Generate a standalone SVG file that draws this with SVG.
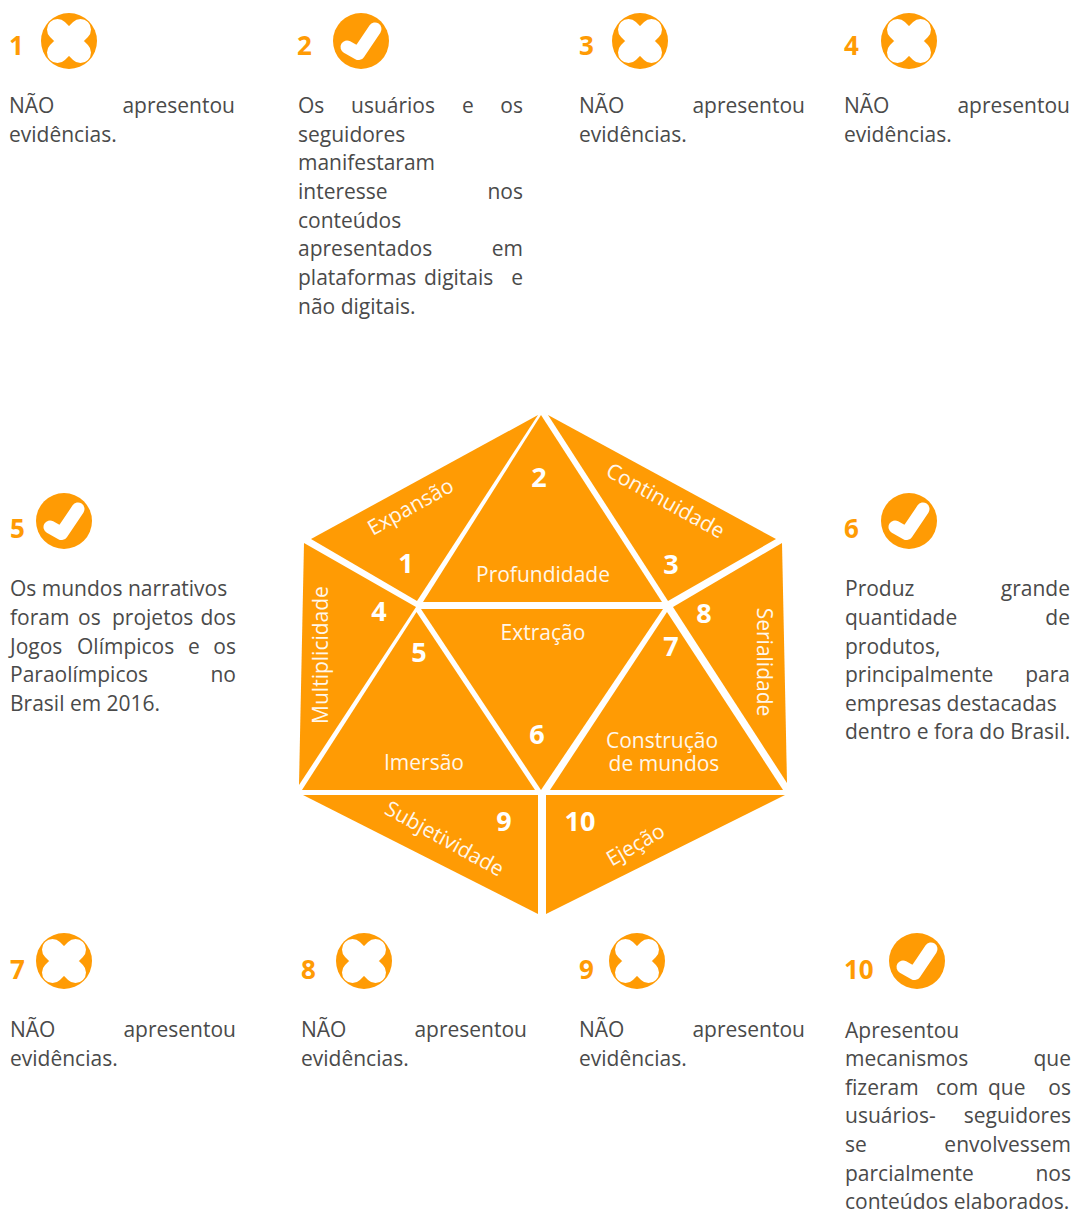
<svg xmlns="http://www.w3.org/2000/svg" width="1073" height="1213" viewBox="0 0 1073 1213">
<style>
text{font-family:"Open Sans","Noto Sans",sans-serif}
.t{font-size:21px;fill:#4a4a4a}
.e{font-size:21px;fill:#4a4a4a;text-anchor:end}
.n{font-size:26px;font-weight:700;fill:#ff9b04}
.w{font-size:27px;font-weight:700;fill:#fff;text-anchor:middle}
.l{font-size:21px;fill:#fff;text-anchor:middle;opacity:.92}
.f{fill:#ff9b04}
</style>
<defs>
<g id="x"><circle r="28" class="f"/><path d="M-11.500-11.500L11.500 11.500M11.500-11.500L-11.500 11.500" stroke="#fff" stroke-width="21" stroke-linecap="round"/></g>
<g id="c"><circle r="28" class="f"/><path d="M-14 6L-2.500 12.500L14-12" fill="none" stroke="#fff" stroke-width="13" stroke-linecap="round" stroke-linejoin="round"/></g>
</defs>
<g id="hexagon">
<polygon class="f" points="538,415 311,539 417,601"/>
<polygon class="f" points="541,415 423,602 662,602"/>
<polygon class="f" points="548,415 776,539 668,601"/>
<polygon class="f" points="304,543 416,607 299,785"/>
<polygon class="f" points="416.500,612 302,790 535,790"/>
<polygon class="f" points="421,609 663,609 541,790"/>
<polygon class="f" points="667,612 550,790 783,790"/>
<polygon class="f" points="782,543 673,607 787,783"/>
<polygon class="f" points="303,795 538,795 538,914"/>
<polygon class="f" points="546,795 785,795 546,914"/>
<text class="w" x="539" y="487">2</text>
<text class="w" x="406" y="573">1</text>
<text class="w" x="671" y="574">3</text>
<text class="w" x="379" y="621">4</text>
<text class="w" x="419" y="662">5</text>
<text class="w" x="537" y="744">6</text>
<text class="w" x="671" y="656">7</text>
<text class="w" x="704" y="623">8</text>
<text class="w" x="504" y="831">9</text>
<text class="w" x="580" y="831">10</text>
<text class="l" x="543" y="582">Profundidade</text>
<text class="l" x="543" y="640">Extração</text>
<text class="l" x="424" y="770">Imersão</text>
<text class="l" x="662" y="748">Construção</text>
<text class="l" x="664" y="771">de mundos</text>
<text class="l" transform="translate(414 513) rotate(-29)">Expansão</text>
<text class="l" transform="translate(662 507) rotate(29)">Continuidade</text>
<text class="l" transform="translate(328 655) rotate(-90)">Multiplicidade</text>
<text class="l" transform="translate(757 662) rotate(90)">Serialidade</text>
<text class="l" transform="translate(441 845) rotate(29)">Subjetividade</text>
<text class="l" transform="translate(639 851) rotate(-30)">Ejeção</text>
</g>
<g id="item1"><text class="n" x="9" y="55">1</text><use href="#x" x="69" y="41"/>
<text class="t" x="9" y="113">NÃO</text><text class="e" x="235" y="113">apresentou</text><text class="t" x="9" y="142">evidências.</text></g>
<g id="item2"><text class="n" x="297" y="55">2</text><use href="#c" x="361" y="41"/>
<text class="t" x="298" y="113">Os</text><text class="t" x="351" y="113">usuários</text><text class="t" x="462" y="113">e</text><text class="e" x="523" y="113">os</text>
<text class="t" x="298" y="142">seguidores</text><text class="t" x="298" y="170">manifestaram</text>
<text class="t" x="298" y="199">interesse</text><text class="e" x="523" y="199">nos</text>
<text class="t" x="298" y="228">conteúdos</text>
<text class="t" x="298" y="256">apresentados</text><text class="e" x="523" y="256">em</text>
<text class="t" x="298" y="285">plataformas</text><text class="t" x="424" y="285">digitais</text><text class="e" x="523" y="285">e</text>
<text class="t" x="298" y="314">não digitais.</text></g>
<g id="item3"><text class="n" x="579" y="55">3</text><use href="#x" x="640" y="41"/>
<text class="t" x="579" y="113">NÃO</text><text class="e" x="805" y="113">apresentou</text><text class="t" x="579" y="142">evidências.</text></g>
<g id="item4"><text class="n" x="844" y="55">4</text><use href="#x" x="909" y="41"/>
<text class="t" x="844" y="113">NÃO</text><text class="e" x="1070" y="113">apresentou</text><text class="t" x="844" y="142">evidências.</text></g>
<g id="item5"><text class="n" x="10" y="538">5</text><use href="#c" x="64" y="521"/>
<text class="t" x="10" y="596">Os mundos narrativos</text>
<text class="t" x="10" y="625">foram</text><text class="t" x="78" y="625">os</text><text class="t" x="112" y="625">projetos</text><text class="e" x="236" y="625">dos</text>
<text class="t" x="10" y="654">Jogos</text><text class="t" x="77" y="654">Olímpicos</text><text class="t" x="188" y="654">e</text><text class="e" x="236" y="654">os</text>
<text class="t" x="10" y="682">Paraolímpicos</text><text class="e" x="236" y="682">no</text>
<text class="t" x="10" y="711">Brasil em 2016.</text></g>
<g id="item6"><text class="n" x="844" y="538">6</text><use href="#c" x="909" y="521"/>
<text class="t" x="845" y="596">Produz</text><text class="e" x="1070" y="596">grande</text>
<text class="t" x="845" y="625">quantidade</text><text class="e" x="1070" y="625">de</text>
<text class="t" x="845" y="654">produtos,</text>
<text class="t" x="845" y="682">principalmente</text><text class="e" x="1070" y="682">para</text>
<text class="t" x="845" y="711">empresas destacadas</text>
<text class="t" x="845" y="739">dentro e fora do Brasil.</text></g>
<g id="item7"><text class="n" x="10" y="979">7</text><use href="#x" x="64" y="961"/>
<text class="t" x="10" y="1037">NÃO</text><text class="e" x="236" y="1037">apresentou</text><text class="t" x="10" y="1066">evidências.</text></g>
<g id="item8"><text class="n" x="301" y="979">8</text><use href="#x" x="364" y="961"/>
<text class="t" x="301" y="1037">NÃO</text><text class="e" x="527" y="1037">apresentou</text><text class="t" x="301" y="1066">evidências.</text></g>
<g id="item9"><text class="n" x="579" y="979">9</text><use href="#x" x="637" y="961"/>
<text class="t" x="579" y="1037">NÃO</text><text class="e" x="805" y="1037">apresentou</text><text class="t" x="579" y="1066">evidências.</text></g>
<g id="item10"><text class="n" x="844" y="979">10</text><use href="#c" x="917" y="961"/>
<text class="t" x="845" y="1038">Apresentou</text>
<text class="t" x="845" y="1066">mecanismos</text><text class="e" x="1071" y="1066">que</text>
<text class="t" x="845" y="1095">fizeram</text><text class="t" x="936" y="1095">com</text><text class="t" x="988" y="1095">que</text><text class="e" x="1071" y="1095">os</text>
<text class="t" x="845" y="1123">usuários-</text><text class="e" x="1071" y="1123">seguidores</text>
<text class="t" x="845" y="1152">se</text><text class="e" x="1071" y="1152">envolvessem</text>
<text class="t" x="845" y="1181">parcialmente</text><text class="e" x="1071" y="1181">nos</text>
<text class="t" x="845" y="1209">conteúdos elaborados.</text></g>
</svg>
